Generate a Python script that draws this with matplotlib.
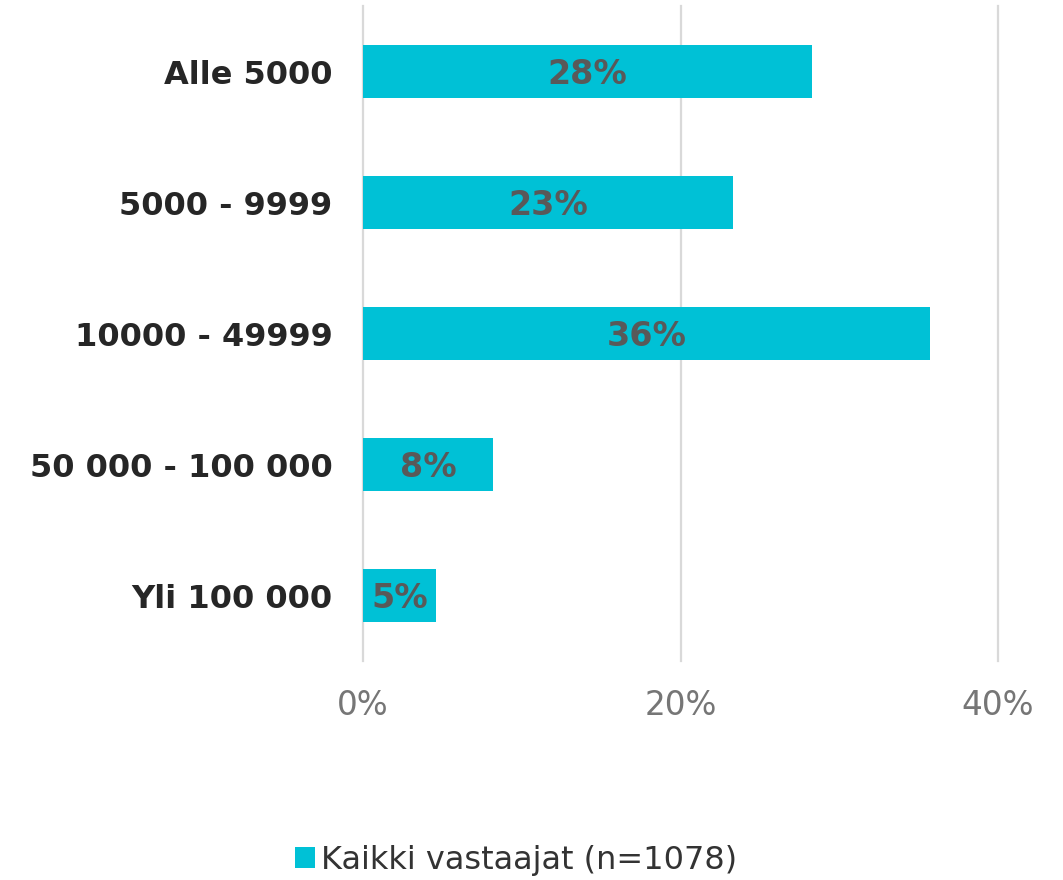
import os
import matplotlib
import matplotlib.pyplot as plt
from matplotlib.patches import Patch
from matplotlib.font_manager import FontProperties

categories = ['Alle 5000', '5000 - 9999', '10000 - 49999', '50 000 - 100 000', 'Yli 100 000']
values = [28.3, 23.3, 35.7, 8.2, 4.6]
value_labels = ['28%', '23%', '36%', '8%', '5%']
series_name = 'Kaikki vastaajat (n=1078)'
x_ticks = [0, 20, 40]
x_tick_labels = ['0%', '20%', '40%']

bar_color = '#00C1D6'

ttf = os.path.join(matplotlib.get_data_path(), 'fonts', 'ttf')
reg = os.path.join(ttf, 'DejaVuSans.ttf')
bold = os.path.join(ttf, 'DejaVuSans-Bold.ttf')

fig = plt.figure(figsize=(10.63, 8.8), dpi=100)
ax = fig.add_axes([363 / 1063, 1 - 661 / 880, 635 / 1063, 655 / 880])

y = list(range(len(categories)))
ax.barh(y, values, height=0.4, color=bar_color, zorder=3)

# value labels in the middle of each bar
for yi, v, lab in zip(y, values, value_labels):
    ax.text(v / 2, yi + 0.02, lab, ha='center', va='center',
            fontproperties=FontProperties(fname=bold, size=24),
            color='#595959', zorder=4)

ax.set_xlim(0, 40)
ax.set_ylim(len(categories) - 0.5, -0.5)
ax.set_yticks(y)
ax.set_yticklabels(categories, fontproperties=FontProperties(fname=bold, size=23), color='#262626')
ax.set_xticks(x_ticks)
ax.set_xticklabels(x_tick_labels, fontproperties=FontProperties(fname=reg, size=23.5), color='#767676')
ax.tick_params(axis='y', length=0, pad=22)
ax.tick_params(axis='x', length=0, pad=20)

ax.grid(axis='x', color='#D9D9D9', linewidth=1.6, zorder=0)
for gl in ax.xaxis.get_gridlines():
    gl.set_clip_on(False)
for s in ax.spines.values():
    s.set_visible(False)

handle = Patch(facecolor=bar_color, edgecolor='none')
fig.legend([handle], [series_name], loc='center', bbox_to_anchor=(516 / 1063, 1 - 860 / 880),
           frameon=False, prop=FontProperties(fname=reg, size=23), handlelength=0.62,
           handleheight=0.62, handletextpad=0.2, labelcolor='#333333')

fig.savefig('out.png', dpi=100)
